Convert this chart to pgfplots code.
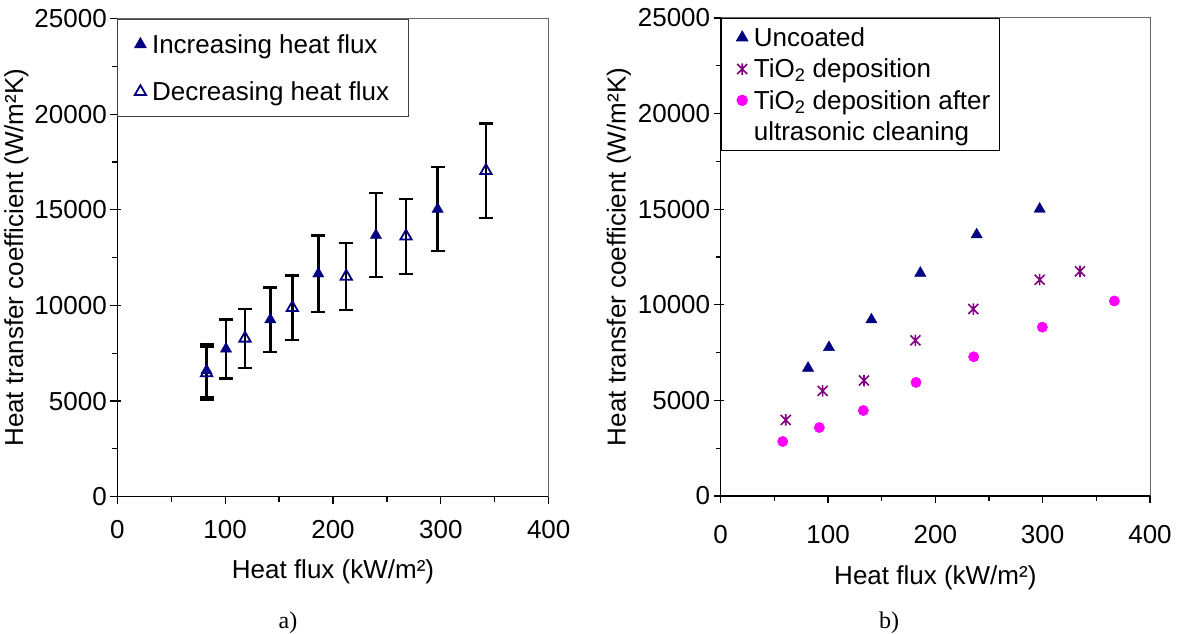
\documentclass[border=0pt]{standalone}
\usepackage{pgfplots}
\pgfplotsset{compat=1.18}
\usepackage{fontspec}
\setmainfont{Liberation Sans}
\newfontfamily\capfont{Liberation Serif}
\newcommand\fs{\fontsize{26}{31}\selectfont}
\definecolor{navyx}{RGB}{0,0,128}
\definecolor{purplex}{RGB}{128,0,128}
\definecolor{magx}{RGB}{255,0,255}
\pgfdeclareplotmark{xstar}{%
  \pgfpathmoveto{\pgfqpoint{-\pgfplotmarksize}{-\pgfplotmarksize}}%
  \pgfpathlineto{\pgfqpoint{\pgfplotmarksize}{\pgfplotmarksize}}%
  \pgfpathmoveto{\pgfqpoint{-\pgfplotmarksize}{\pgfplotmarksize}}%
  \pgfpathlineto{\pgfqpoint{\pgfplotmarksize}{-\pgfplotmarksize}}%
  \pgfpathmoveto{\pgfqpoint{0pt}{-1.15\pgfplotmarksize}}%
  \pgfpathlineto{\pgfqpoint{0pt}{1.15\pgfplotmarksize}}%
  \pgfusepathqstroke}
\pgfplotsset{
  mystyle/.style={
    scale only axis,
    axis lines*=left,
    xmin=0, xmax=400, ymin=0, ymax=25000,
    xtick={0,100,200,300,400},
    ytick={0,5000,10000,15000,20000,25000},
    minor x tick num=1, minor y tick num=1,
    tick align=outside,
    major tick length=7pt, minor tick length=5pt,
    extra y ticks={0,5000,10000,15000,20000,25000},
    extra y tick labels={},
    extra y tick style={tick align=inside, major tick length=3.5pt},
    scaled ticks=false,
    /pgf/number format/set thousands separator={},
    /pgf/number format/assume math mode=true,
    tick label style={font=\fs},
    label style={font=\fs},
    axis line style={line width=1.2pt, black},
    every tick/.style={line width=1.2pt, black},
    xlabel={Heat flux (kW/m²)},
    ylabel={Heat transfer coefficient (W/m²K)},
    clip=false,
    legend cell align=left,
  },
  ebars/.style={draw=none, mark=none, forget plot,
    error bars/.cd, y dir=both, y explicit,
    error bar style={draw=black, line width=2.4pt},
    error mark options={rotate=90, mark size=7pt, line width=2.4pt, draw=black}},
}
\pgfplotstableread{
x y e
82.8 6600 1390
100.8 7730 1540
141.9 9260 1690
186.4 11660 2000
239.8 13680 2190
297.0 15040 2200
}\incdata
\pgfplotstableread{
x y e
82.8 6470 1380
118.4 8280 1550
162.3 9880 1690
212.3 11520 1760
267.7 13620 1960
341.8 17050 2460
}\decdata
\begin{document}
\begin{tikzpicture}[x=1pt,y=1pt]
\useasboundingbox (0,0) rectangle (1184,634);
\begin{axis}[mystyle,
  at={(117.3pt,137.3pt)}, anchor=south west,
  width=431.4pt, height=478pt,
  xticklabel shift=13pt, xlabel shift=14pt, ylabel shift=-8pt,
  legend image code/.code={\draw[mark repeat=2,mark phase=2] plot coordinates {(0pt,0pt) (6pt,0pt) (12pt,0pt)};},
  legend style={at={(0,1)}, anchor=north west, font=\fs, draw=black!75, line width=1pt,
    inner xsep=17pt, inner ysep=13pt, row sep=23pt, column sep=4pt},
]
\draw[black!60, line width=1pt] (rel axis cs:0,1) -- (rel axis cs:1,1) -- (rel axis cs:1,0);
\addplot[ebars] table[x=x, y=y, y error=e] {\incdata};
\addplot[ebars] table[x=x, y=y, y error=e] {\decdata};
\addplot[only marks, mark=triangle*, mark size=6.5pt, color=navyx]
  table[x=x, y=y] {\incdata};
\addlegendentry{Increasing heat flux}
\addplot[only marks, mark=triangle, mark size=6.5pt, color=navyx, mark options={line width=1.8pt}]
  table[x=x, y=y] {\decdata};
\addlegendentry{Decreasing heat flux}
\end{axis}
\begin{axis}[mystyle,
  at={(720.7pt,138pt)}, anchor=south west,
  width=429.3pt, height=478pt,
  xticklabel shift=19pt, xlabel shift=15pt, ylabel shift=-7pt,
  legend image code/.code={\path[draw=none,fill=none] (-8pt,0pt) -- (0pt,0pt); \draw[mark repeat=2,mark phase=2] plot coordinates {(0pt,0pt) (6pt,0pt) (12pt,0pt)};},
  legend style={at={(0,1)}, anchor=north west, font=\fs, draw=black, line width=1pt,
    inner xsep=7pt, inner ysep=7pt, row sep=7pt, column sep=4pt},
]
\draw[black!60, line width=1pt] (rel axis cs:0,1) -- (rel axis cs:1,1) -- (rel axis cs:1,0);
\addplot[only marks, mark=triangle*, mark size=6.5pt, color=navyx] coordinates {
(81.4,6690) (100.9,7770) (140.4,9220) (186.0,11660) (238.5,13670) (297.2,15010)};
\addlegendentry{Uncoated}
\addplot[only marks, mark=xstar, mark size=5pt, color=purplex, mark options={line width=1.6pt}] coordinates {
(60.6,3980) (95.0,5500) (133.5,6040) (181.4,8140) (235.4,9780) (297.2,11310) (334.8,11750)};
\addlegendentry{TiO\textsubscript{2} deposition}
\addplot[only marks, mark=*, mark size=5.2pt, color=magx] coordinates {
(57.8,2850) (91.9,3580) (132.9,4470) (182.0,5940) (235.7,7280) (299.7,8830) (366.8,10200)};
\addlegendentry{TiO\textsubscript{2} deposition after}
\addlegendimage{empty legend}
\addlegendentry{ultrasonic cleaning}
\end{axis}
\node[font=\capfont\fontsize{24}{28}\selectfont] at (288,11) {a)};
\node[font=\capfont\fontsize{24}{28}\selectfont] at (889,11) {b)};
\end{tikzpicture}
\end{document}
